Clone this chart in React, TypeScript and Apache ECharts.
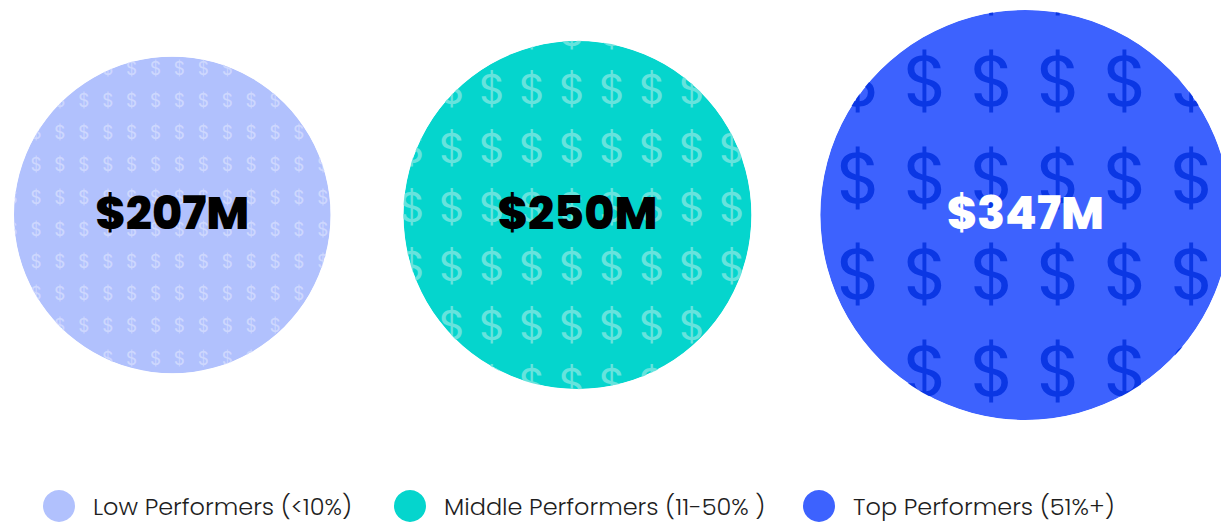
import React, { useEffect, useRef } from "react";
import * as echarts from "echarts";

// ---- Data ----
const CATEGORIES = ["Low Performers (<10%)", "Middle Performers (11-50% )", "Top Performers (51%+)"];
const VALUES = [207, 250, 347];
const LABELS = ["$207M", "$250M", "$347M"];

// ---- Style ----
const FILLS = ["#b1c1fd", "#05d5cd", "#3d62fe"];
const GLYPH_COLORS = ["#cdd7fe", "#66e3dd", "#0b37e4"];
const LABEL_COLORS = ["#000000", "#000000", "#ffffff"];
const PATTERNS = [
  { w: 23.9, h: 32.2, size: 19, dx: 7.5, dy: -18 },
  { w: 40, h: 58.8, size: 43, dx: -5, dy: -8 },
  { w: 66.7, h: 96.7, size: 72, dx: -33, dy: -38 },
];
const LEGEND_LEFTS = [43, 394, 803];
const RADIUS_K = 11; // px per sqrt(unit) -> area proportional
const LEFT_PAD = 14;
const GAPS = [73, 69];
const W = 1221;
const H = 523;
const FONT = "Poppins, Inter, 'Noto Sans', sans-serif";

const radii = VALUES.map((v) => RADIUS_K * Math.sqrt(v));
const centers: number[] = [];
radii.forEach((r, i) => {
  if (i === 0) centers.push(LEFT_PAD + r);
  else centers.push(centers[i - 1] + radii[i - 1] + GAPS[i - 1] + r);
});

export default function App() {
  const ref = useRef<HTMLDivElement>(null);
  useEffect(() => {
    document.body.style.margin = "0";
    if (!ref.current) return;
    const chart = echarts.init(ref.current, null, { renderer: "svg" });

    const renderItem = (params: any, api: any) => {
      const i = params.seriesIndex;
      const pt = api.coord([api.value(0), api.value(1)]);
      const unit = api.size([1, 0])[0];
      const r = RADIUS_K * Math.sqrt(api.value(2)) * unit;
      const cx = pt[0];
      const cy = pt[1];
      const p = PATTERNS[i];
      const children: any[] = [];
      children.push({ type: "circle", shape: { cx, cy, r }, style: { fill: FILLS[i] } });
      const x0 = cx + p.dx;
      const y0 = cy + p.dy;
      const nx = Math.ceil((r + p.w) / p.w) + 1;
      const ny = Math.ceil((r + p.h) / p.h) + 1;
      for (let a = -nx; a <= nx; a++) {
        for (let b = -ny; b <= ny; b++) {
          const gx = x0 + a * p.w;
          const gy = y0 + b * p.h;
          const d = Math.hypot(gx - cx, gy - cy);
          if (d > r + p.size * 0.45) continue;
          children.push({
            type: "text",
            x: gx,
            y: gy,
            silent: true,
            style: {
              text: "$",
              fill: GLYPH_COLORS[i],
              fontSize: p.size,
              fontFamily: FONT,
              fontWeight: 400,
              align: "center",
              verticalAlign: "middle",
            },
          });
        }
      }
      children.push({
        type: "ring",
        shape: { cx, cy, r: r + p.size * 1.05, r0: r + 0.3 },
        style: { fill: "#ffffff" },
        silent: true,
      });
      children.push({
        type: "text",
        x: cx,
        y: cy - 2,
        style: {
          text: LABELS[i],
          fill: LABEL_COLORS[i],
          fontSize: 46,
          fontFamily: FONT,
          fontWeight: 800,
          align: "center",
          verticalAlign: "middle",
        },
      });
      return { type: "group", children };
    };

    const option: any = {
      animation: false,
      color: FILLS,
      grid: { left: 0, right: 0, top: 0, bottom: 93 },
      xAxis: { type: "value", min: 0, max: W, show: false },
      yAxis: { type: "value", min: 0, max: 1, show: false },
      legend: CATEGORIES.map((name, i) => ({
        data: [name],
        left: LEGEND_LEFTS[i],
        top: 490,
        padding: 0,
        icon: "circle",
        itemWidth: 32,
        itemHeight: 32,
        selectedMode: false,
        textStyle: {
          fontSize: 24,
          fontFamily: FONT,
          fontWeight: 300,
          color: "#1e1e1e",
          padding: [0, 0, 0, 13],
        },
      })),
      series: CATEGORIES.map((name, i) => ({
        type: "custom",
        name,
        coordinateSystem: "cartesian2d",
        z: 2 + (CATEGORIES.length - i),
        itemStyle: { color: FILLS[i] },
        renderItem,
        data: [[centers[i], 0.5, VALUES[i]]],
        clip: false,
      })),
    };
    chart.setOption(option);
    return () => chart.dispose();
  }, []);
  return <div ref={ref} style={{ width: W, height: H }} />;
}
